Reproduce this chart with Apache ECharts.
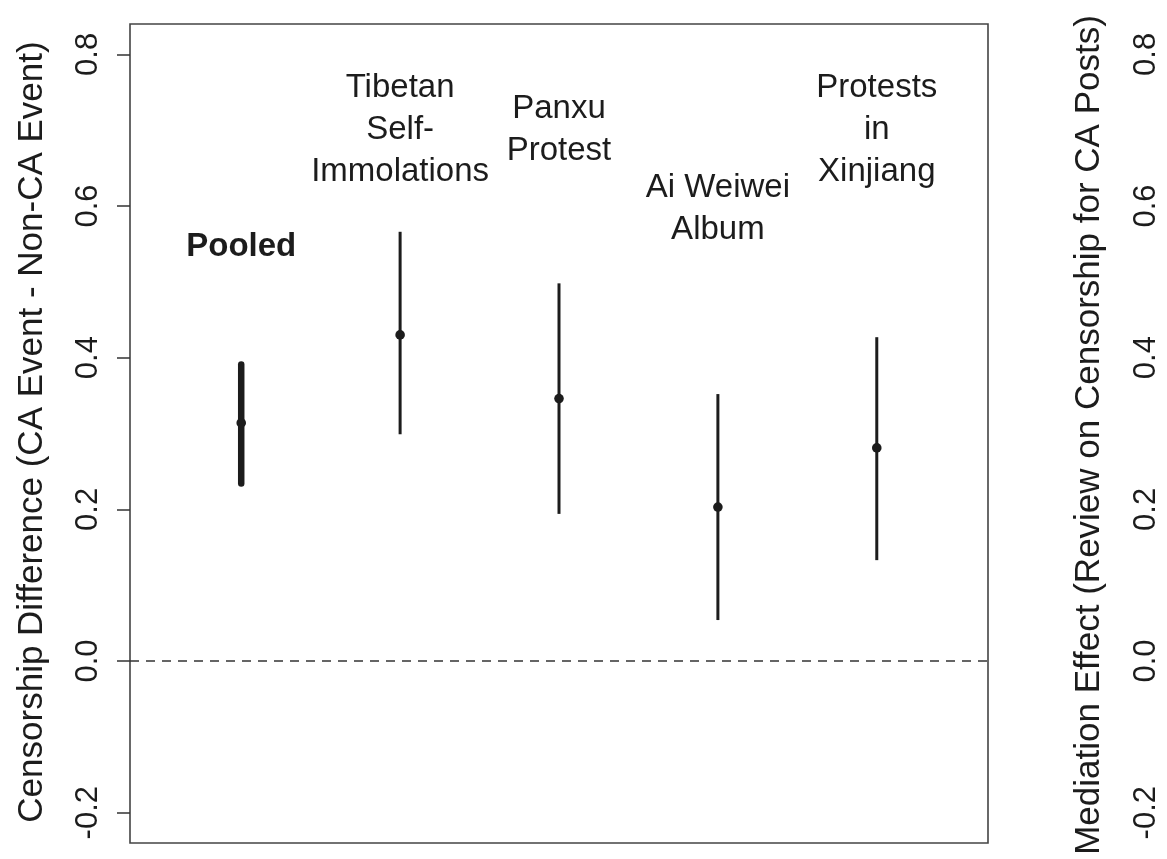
<!DOCTYPE html>
<html>
<head>
<meta charset="utf-8">
<title>Censorship Difference by Event</title>
<script src="https://cdn.jsdelivr.net/npm/echarts@6.0.0/dist/echarts.min.js"></script>
<style>
  html, body { margin: 0; padding: 0; background: #ffffff; }
  #chart { width: 1167px; height: 859px; }
</style>
</head>
<body>
<div id="chart"></div>
<script>
// Events, in plotting order (x = 1..5)
const events = ['Pooled', 'Tibetan Self-Immolations', 'Panxu Protest', 'Ai Weiwei Album', 'Protests in Xinjiang'];
const eventLabels = ['Pooled', 'Tibetan\nSelf-\nImmolations', 'Panxu\nProtest', 'Ai Weiwei\nAlbum', 'Protests\nin\nXinjiang'];

// Point estimates and interval bounds
const estimates = [0.314, 0.430, 0.346, 0.203, 0.281];
const lower     = [0.234, 0.299, 0.194, 0.054, 0.133];
const upper     = [0.391, 0.566, 0.498, 0.352, 0.427];

// Value at which each event's label block is centred
const labelY = [0.546, 0.70, 0.70, 0.596, 0.70];

// Axis tick values
const yTicks = [-0.2, 0.0, 0.2, 0.4, 0.6, 0.8];

const FONT = '"Liberation Sans", Arial, Helvetica, sans-serif';
const INK = '#1c1c1c';

const chart = echarts.init(document.getElementById('chart'), null, { renderer: 'canvas' });

const intervalData = events.map((e, i) => [i + 1, estimates[i], lower[i], upper[i]]);
const labelData = events.map((e, i) => ({
  value: [i + 1, labelY[i]],
  label: {
    formatter: eventLabels[i],
    fontWeight: i === 0 ? 'bold' : 'normal'
  }
}));

const option = {
  animation: false,
  backgroundColor: '#ffffff',
  grid: {
    left: 130, right: 179, top: 24, bottom: 16,
    show: true,
    borderColor: '#444444',
    borderWidth: 1.6,
    backgroundColor: 'transparent'
  },
  xAxis: {
    type: 'value',
    min: 0.3,
    max: 5.7,
    show: false
  },
  yAxis: [
    {
      type: 'value',
      position: 'left',
      min: -0.24,
      max: 0.84,
      axisLine: { show: false },
      splitLine: { show: false },
      axisTick: {
        show: true,
        inside: false,
        length: 13,
        customValues: yTicks,
        lineStyle: { color: '#333333', width: 1.5 }
      },
      axisLabel: {
        customValues: yTicks,
        rotate: 90,
        align: 'center',
        verticalAlign: 'middle',
        margin: 42,
        fontSize: 31,
        fontFamily: FONT,
        color: INK,
        formatter: v => v.toFixed(1)
      }
    },
    {
      type: 'value',
      position: 'right',
      min: -0.24,
      max: 0.84,
      axisLine: { show: false },
      splitLine: { show: false },
      axisTick: { show: false },
      axisLabel: {
        customValues: yTicks,
        rotate: 90,
        align: 'center',
        verticalAlign: 'middle',
        margin: 158,
        fontSize: 31,
        fontFamily: FONT,
        color: INK,
        formatter: v => v.toFixed(1)
      }
    }
  ],
  graphic: [
    {
      type: 'text',
      x: 32, y: 432,
      rotation: Math.PI / 2,
      style: {
        text: 'Censorship Difference (CA Event - Non-CA Event)',
        font: '35px ' + FONT,
        fill: INK,
        textAlign: 'center',
        textVerticalAlign: 'middle'
      }
    },
    {
      type: 'text',
      x: 1089, y: 435,
      rotation: Math.PI / 2,
      style: {
        text: 'Mediation Effect (Review on Censorship for CA Posts)',
        font: '35px ' + FONT,
        fill: INK,
        textAlign: 'center',
        textVerticalAlign: 'middle'
      }
    }
  ],
  series: [
    {
      // Reference line at zero
      type: 'scatter',
      data: [],
      silent: true,
      markLine: {
        silent: true,
        symbol: ['none', 'none'],
        label: { show: false },
        lineStyle: { color: '#333333', width: 1.5, type: [9, 7] },
        data: [{ yAxis: 0 }]
      }
    },
    {
      // Intervals with point estimates
      type: 'custom',
      data: intervalData,
      renderItem: (params, api) => {
        const x = api.value(0);
        const est = api.coord([x, api.value(1)]);
        const lo = api.coord([x, api.value(2)]);
        const hi = api.coord([x, api.value(3)]);
        const pooled = params.dataIndex === 0;
        return {
          type: 'group',
          children: [
            {
              type: 'line',
              shape: { x1: lo[0], y1: lo[1], x2: hi[0], y2: hi[1] },
              style: { stroke: INK, lineWidth: pooled ? 6.5 : 3, lineCap: pooled ? 'round' : 'butt' }
            },
            {
              type: 'circle',
              shape: { cx: est[0], cy: est[1], r: 4.8 },
              style: { fill: INK }
            }
          ]
        };
      }
    },
    {
      // Event labels
      type: 'scatter',
      data: labelData,
      symbolSize: 1,
      itemStyle: { color: 'rgba(0,0,0,0)', opacity: 1 },
      silent: true,
      label: {
        show: true,
        position: 'inside',
        align: 'center',
        verticalAlign: 'middle',
        fontSize: 33,
        lineHeight: 42,
        fontFamily: FONT,
        color: INK,
        opacity: 1
      }
    }
  ]
};

chart.setOption(option);
</script>
</body>
</html>
